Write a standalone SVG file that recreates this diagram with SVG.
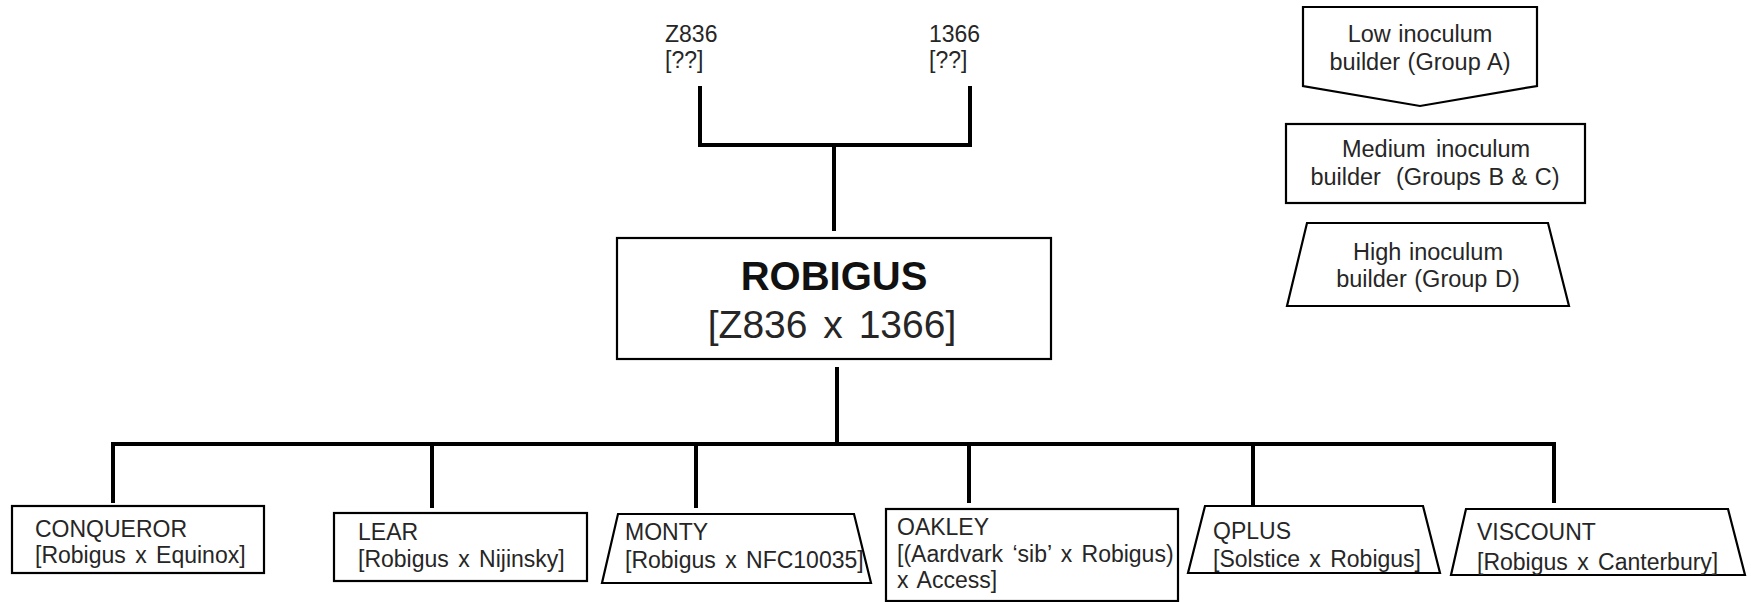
<svg xmlns="http://www.w3.org/2000/svg" width="1751" height="602" viewBox="0 0 1751 602">
<style>
.t{font-family:"Liberation Sans",Arial,sans-serif;font-size:23px;fill:#262626;word-spacing:3px}
.l{font-size:23.5px;word-spacing:1px}
.c{text-anchor:middle}
.n{fill:#fff;stroke:#000;stroke-width:2.2}
.conn{fill:none;stroke:#000;stroke-width:4;stroke-linecap:square}
</style>
<rect width="1751" height="602" fill="#fff"/>
<g id="connectors" class="conn">
<path d="M700,88 V145 H970 V88"/>
<path d="M834,145 V229"/>
<path d="M837,369 V444"/>
<path d="M113,501 V444 H1554 V501"/>
<path d="M432,446 V506"/>
<path d="M696,446 V506"/>
<path d="M969,444 V501"/>
<path d="M1253,446 V504"/>
</g>
<g id="z836"><text class="t" x="665" y="42">Z836</text><text class="t" x="665" y="68">[??]</text></g>
<g id="p1366"><text class="t" x="929" y="42">1366</text><text class="t" x="929" y="68">[??]</text></g>
<g id="robigus">
<rect class="n" x="617" y="238" width="434" height="121" stroke="#333"/>
<text class="t c" x="834" y="290" style="font-size:40px;font-weight:bold;fill:#111">ROBIGUS</text>
<text class="t c" x="832" y="338" style="font-size:39px;word-spacing:5px">[Z836 x 1366]</text>
</g>
<g id="legend-low">
<polygon class="n" points="1303,7 1537,7 1537,86 1420,106 1303,86"/>
<text class="t l c" x="1420" y="42">Low inoculum</text>
<text class="t l c" x="1420" y="70">builder (Group A)</text>
</g>
<g id="legend-medium">
<rect class="n" x="1286" y="124" width="299" height="79"/>
<text class="t l c" x="1436" y="157" style="word-spacing:4px">Medium inoculum</text>
<text class="t l c" x="1435" y="185" xml:space="preserve">builder  (Groups B &amp; C)</text>
</g>
<g id="legend-high">
<polygon class="n" points="1307,223 1548,223 1569,306 1287,306"/>
<text class="t l c" x="1428" y="260">High inoculum</text>
<text class="t l c" x="1428" y="287">builder (Group D)</text>
</g>
<g id="conqueror">
<rect class="n" x="12" y="506" width="252" height="67"/>
<text class="t" x="35" y="537">CONQUEROR</text>
<text class="t" x="35" y="563">[Robigus x Equinox]</text>
</g>
<g id="lear">
<rect class="n" x="334" y="513" width="253" height="68"/>
<text class="t" x="358" y="540">LEAR</text>
<text class="t" x="358" y="567">[Robigus x Nijinsky]</text>
</g>
<g id="monty">
<polygon class="n" points="618,514 854,514 871,583 602,583"/>
<text class="t" x="625" y="540">MONTY</text>
<text class="t" x="625" y="568">[Robigus x NFC10035]</text>
</g>
<g id="oakley">
<rect class="n" x="886" y="509" width="292" height="92"/>
<text class="t" x="897" y="535">OAKLEY</text>
<text class="t" x="897" y="562">[(Aardvark ‘sib’ x Robigus)</text>
<text class="t" x="897" y="588">x Access]</text>
</g>
<g id="qplus">
<polygon class="n" points="1205,506 1423,506 1440,573 1188,573"/>
<text class="t" x="1213" y="539">QPLUS</text>
<text class="t" x="1213" y="567">[Solstice x Robigus]</text>
</g>
<g id="viscount">
<polygon class="n" points="1466,509 1728,509 1745,575 1451,575"/>
<text class="t" x="1477" y="540">VISCOUNT</text>
<text class="t" x="1477" y="570">[Robigus x Canterbury]</text>
</g>
</svg>
